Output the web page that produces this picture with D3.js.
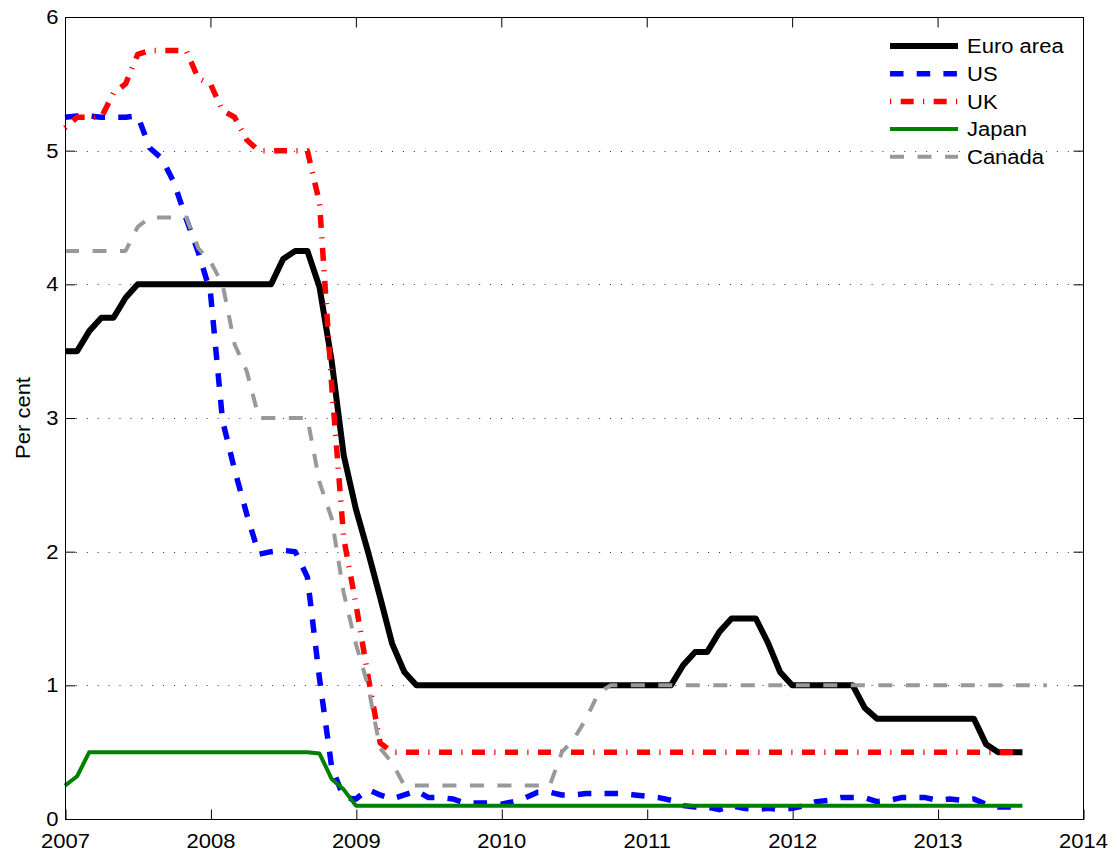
<!DOCTYPE html>
<html>
<head>
<meta charset="utf-8">
<script src="https://cdn.jsdelivr.net/npm/d3@7"></script>
<style>
  html, body { margin: 0; padding: 0; background: #fff; }
  svg { display: block; font-family: "Liberation Sans", Arial, Helvetica, sans-serif; }
</style>
</head>
<body>
<script>
// Policy interest rates, monthly averages from January 2007 (per cent)
const startYear = 2007;
const yearTicks = [2007, 2008, 2009, 2010, 2011, 2012, 2013, 2014];
const rateTicks = [0, 1, 2, 3, 4, 5, 6];
const seriesNames = ["Euro area", "US", "UK", "Japan", "Canada"];

const euroArea = [
  3.5, 3.5, 3.65, 3.75, 3.75, 3.9, 4.0, 4.0, 4.0, 4.0, 4.0, 4.0,
  4.0, 4.0, 4.0, 4.0, 4.0, 4.0, 4.19, 4.25, 4.25, 3.98, 3.43, 2.72,
  2.32, 2.0, 1.66, 1.31, 1.1, 1.0, 1.0, 1.0, 1.0, 1.0, 1.0, 1.0,
  1.0, 1.0, 1.0, 1.0, 1.0, 1.0, 1.0, 1.0, 1.0, 1.0, 1.0, 1.0,
  1.0, 1.0, 1.0, 1.15, 1.25, 1.25, 1.4, 1.5, 1.5, 1.5, 1.32, 1.1,
  1.0, 1.0, 1.0, 1.0, 1.0, 1.0, 0.83, 0.75, 0.75, 0.75, 0.75, 0.75,
  0.75, 0.75, 0.75, 0.75, 0.56, 0.5, 0.5, 0.5
];
const us = [
  5.25, 5.26, 5.26, 5.25, 5.25, 5.25, 5.26, 5.02, 4.94, 4.76, 4.49, 4.24,
  3.94, 2.98, 2.61, 2.28, 1.98, 2.0, 2.01, 2.0, 1.81, 1.05, 0.39, 0.16,
  0.15, 0.22, 0.18, 0.15, 0.18, 0.21, 0.16, 0.16, 0.15, 0.12, 0.12, 0.12,
  0.11, 0.13, 0.16, 0.2, 0.2, 0.18, 0.18, 0.19, 0.19, 0.19, 0.19, 0.18,
  0.17, 0.16, 0.14, 0.1, 0.09, 0.09, 0.07, 0.1, 0.08, 0.07, 0.08, 0.07,
  0.08, 0.1, 0.13, 0.14, 0.16, 0.16, 0.16, 0.13, 0.14, 0.16, 0.16, 0.16,
  0.14, 0.15, 0.14, 0.15, 0.11, 0.09, 0.09, 0.08
];
const uk = [
  5.17, 5.25, 5.25, 5.25, 5.43, 5.5, 5.72, 5.75, 5.75, 5.75, 5.75, 5.54,
  5.5, 5.3, 5.25, 5.08, 5.0, 5.0, 5.0, 5.0, 5.0, 4.61, 3.25, 2.1,
  1.61, 1.07, 0.57, 0.5, 0.5, 0.5, 0.5, 0.5, 0.5, 0.5, 0.5, 0.5,
  0.5, 0.5, 0.5, 0.5, 0.5, 0.5, 0.5, 0.5, 0.5, 0.5, 0.5, 0.5,
  0.5, 0.5, 0.5, 0.5, 0.5, 0.5, 0.5, 0.5, 0.5, 0.5, 0.5, 0.5,
  0.5, 0.5, 0.5, 0.5, 0.5, 0.5, 0.5, 0.5, 0.5, 0.5, 0.5, 0.5,
  0.5, 0.5, 0.5, 0.5, 0.5, 0.5, 0.5, 0.5
];
const japan = [
  0.25, 0.32, 0.5, 0.5, 0.5, 0.5, 0.5, 0.5, 0.5, 0.5, 0.5, 0.5,
  0.5, 0.5, 0.5, 0.5, 0.5, 0.5, 0.5, 0.5, 0.5, 0.49, 0.3, 0.22,
  0.1, 0.1, 0.1, 0.1, 0.1, 0.1, 0.1, 0.1, 0.1, 0.1, 0.1, 0.1,
  0.1, 0.1, 0.1, 0.1, 0.1, 0.1, 0.1, 0.1, 0.1, 0.1, 0.1, 0.1,
  0.1, 0.1, 0.1, 0.1, 0.1, 0.1, 0.1, 0.1, 0.1, 0.1, 0.1, 0.1,
  0.1, 0.1, 0.1, 0.1, 0.1, 0.1, 0.1, 0.1, 0.1, 0.1, 0.1, 0.1,
  0.1, 0.1, 0.1, 0.1, 0.1, 0.1, 0.1, 0.1
];
const canada = [
  4.25, 4.25, 4.25, 4.25, 4.25, 4.25, 4.43, 4.5, 4.5, 4.5, 4.5, 4.27,
  4.17, 4.0, 3.55, 3.35, 3.0, 3.0, 3.0, 3.0, 3.0, 2.52, 2.25, 1.69,
  1.31, 1.0, 0.53, 0.42, 0.25, 0.25, 0.25, 0.25, 0.25, 0.25, 0.25, 0.25,
  0.25, 0.25, 0.25, 0.25, 0.25, 0.5, 0.6, 0.75, 0.94, 1.0, 1.0, 1.0,
  1.0, 1.0, 1.0, 1.0, 1.0, 1.0, 1.0, 1.0, 1.0, 1.0, 1.0, 1.0,
  1.0, 1.0, 1.0, 1.0, 1.0, 1.0, 1.0, 1.0, 1.0, 1.0, 1.0, 1.0,
  1.0, 1.0, 1.0, 1.0, 1.0, 1.0, 1.0, 1.0, 1.0, 1.0
];

const seriesValues = [euroArea, us, uk, japan, canada];
const seriesStyles = [
  { color: "#000000", width: 6,   dash: null },
  { color: "#0000ff", width: 5.5, dash: "13.5 13.2" },
  { color: "#ff0000", width: 5.5, dash: "1.2 9.5 13 9.3" },
  { color: "#008000", width: 4,   dash: null },
  { color: "#999999", width: 4,   dash: "14 13.5" }
];

const W = 1118, H = 858;
const plot = { left: 65, right: 1083, top: 17, bottom: 819 };
const textStretch = 1.1;

const svg = d3.select("body").append("svg")
  .attr("width", W).attr("height", H);

const x = d3.scaleLinear().domain([2007, 2014]).range([plot.left, plot.right]);
const y = d3.scaleLinear().domain([0, 6]).range([plot.bottom, plot.top]);

// widen glyphs slightly, as in the printed figure
function widen(sel, k) {
  sel.each(function () {
    const w = this.getComputedTextLength();
    this.setAttribute("textLength", w * k);
    this.setAttribute("lengthAdjust", "spacingAndGlyphs");
  });
}

// dotted horizontal grid
svg.append("g")
  .selectAll("line")
  .data(rateTicks.filter(d => d > 0 && d < 6))
  .join("line")
  .attr("x1", plot.left).attr("x2", plot.right)
  .attr("y1", d => Math.round(y(d)) + 0.5).attr("y2", d => Math.round(y(d)) + 0.5)
  .attr("stroke", "#333")
  .attr("stroke-width", 1)
  .attr("stroke-dasharray", "1 9.9");

// series lines
const line = d3.line()
  .x((d, i) => x(startYear + i / 12))
  .y(d => y(d));

const linesG = svg.append("g");
seriesValues.forEach((vals, k) => {
  const s = seriesStyles[k];
  linesG.append("path")
    .datum(vals)
    .attr("d", line)
    .attr("fill", "none")
    .attr("stroke", s.color)
    .attr("stroke-width", s.width)
    .attr("stroke-linejoin", "round")
    .attr("stroke-linecap", "butt")
    .attr("stroke-dasharray", s.dash);
});

// axes: labelled bottom and left, plain ticks on top and right
const fmtYear = d3.format("d");
const gx = svg.append("g")
  .attr("transform", `translate(0,${plot.bottom + 0.5})`)
  .call(d3.axisBottom(x).tickValues(yearTicks).tickSize(-10).tickSizeOuter(0).tickPadding(14).tickFormat(fmtYear));
const gy = svg.append("g")
  .attr("transform", `translate(${plot.left + 0.5},0)`)
  .call(d3.axisLeft(y).tickValues(rateTicks).tickSize(-10).tickSizeOuter(0).tickPadding(7).tickFormat(d3.format("d")));
const gxTop = svg.append("g")
  .attr("transform", `translate(0,${plot.top + 0.5})`)
  .call(d3.axisTop(x).tickValues(yearTicks).tickSize(-10).tickSizeOuter(0).tickFormat(""));
const gyRight = svg.append("g")
  .attr("transform", `translate(${plot.right + 0.5},0)`)
  .call(d3.axisRight(y).tickValues(rateTicks).tickSize(-10).tickSizeOuter(0).tickFormat(""));

[gx, gy, gxTop, gyRight].forEach(g => {
  g.select(".domain").remove();
  g.selectAll(".tick line").attr("stroke", "#000").attr("stroke-width", 1);
  g.selectAll(".tick text")
    .attr("fill", "#000")
    .style("font-size", "20px")
    .style("font-family", "'Liberation Sans', Arial, sans-serif");
});
gx.selectAll(".tick line").attr("transform", "translate(0.5,0)");
widen(gx.selectAll(".tick text"), textStretch);
widen(gy.selectAll(".tick text"), textStretch);

// frame
svg.append("rect")
  .attr("x", plot.left + 0.5).attr("y", plot.top + 0.5)
  .attr("width", plot.right - plot.left).attr("height", plot.bottom - plot.top)
  .attr("fill", "none").attr("stroke", "#000").attr("stroke-width", 1);

// y-axis title
const yTitle = svg.append("text")
  .attr("transform", `translate(30,${(plot.top + plot.bottom) / 2}) rotate(-90)`)
  .attr("text-anchor", "middle")
  .attr("font-size", 20)
  .attr("fill", "#000")
  .text("Per cent");
widen(yTitle, 1.1);

// legend
const legend = svg.append("g");
const legendX0 = 890, legendX1 = 958, legendY0 = 46, legendStep = 27.7;
seriesNames.forEach((name, k) => {
  const s = seriesStyles[k];
  const yy = legendY0 + k * legendStep;
  legend.append("line")
    .attr("x1", legendX0).attr("x2", legendX1)
    .attr("y1", yy).attr("y2", yy)
    .attr("stroke", s.color)
    .attr("stroke-width", s.width)
    .attr("stroke-dasharray", s.dash);
  const t = legend.append("text")
    .attr("x", legendX1 + 9).attr("y", yy)
    .attr("dy", "0.36em")
    .attr("font-size", 20)
    .attr("fill", "#000")
    .text(name);
  widen(t, textStretch);
});
</script>
</body>
</html>
